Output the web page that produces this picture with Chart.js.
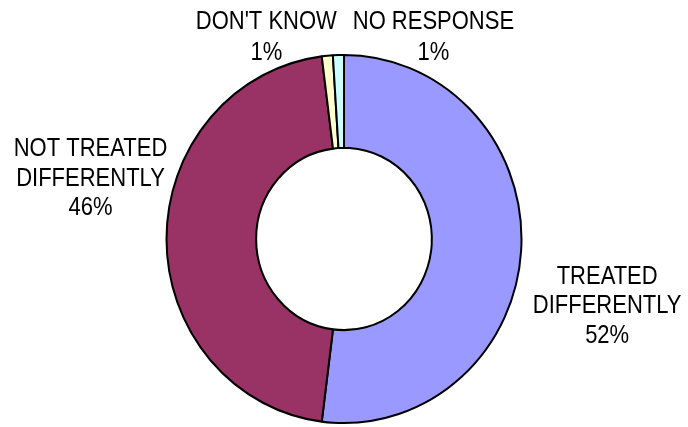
<!DOCTYPE html>
<html>
<head>
<meta charset="utf-8">
<script src="https://cdn.jsdelivr.net/npm/chart.js@4/dist/chart.umd.min.js"></script>
<style>
  body { margin: 0; background: #fff; }
  #wrap { width: 688px; height: 427px; }
</style>
</head>
<body>
<div id="wrap"><canvas id="chart" width="688" height="427"></canvas></div>
<script>
// categories and values (percent of respondents)
const labels = [["TREATED", "DIFFERENTLY"], ["NOT TREATED", "DIFFERENTLY"], ["DON'T KNOW"], ["NO RESPONSE"]];
const values = [52, 46, 1, 1];
const colors = ["#9999FF", "#993366", "#FFFFCC", "#CCFFFF"];

// where each label's first baseline sits, relative to the arc's outer edge at mid angle
const labelOffsets = [[86, 33], [-76, -83], [-61, -27], [95, -26]];
const squash = 1.037;   // the original pie is slightly taller than wide
const textStretch = 1.18; // and its text is taller than plain Arial

const ctx = document.getElementById("chart").getContext("2d");

/*
Stretch the ring vertically a little
*/
const stretchPlugin = {
  id: "stretch",
  beforeDatasetsDraw(chart) {
    const arc = chart.getDatasetMeta(0).data[0];
    const c = chart.ctx;
    c.save();
    c.translate(arc.x, arc.y);
    c.scale(1, squash);
    c.translate(-arc.x, -arc.y);
  },
  afterDatasetsDraw(chart) {
    chart.ctx.restore();
  }
};

/*
Outside labels with percentage
*/
const labelPlugin = {
  id: "outLabels",
  afterDraw(chart) {
    const c = chart.ctx;
    const total = values.reduce((a, b) => a + b, 0);
    c.save();
    c.fillStyle = "#000";
    c.font = "22px 'Liberation Sans', Arial, sans-serif";
    c.textAlign = "center";
    c.textBaseline = "alphabetic";
    chart.getDatasetMeta(0).data.forEach((arc, i) => {
      const mid = (arc.startAngle + arc.endAngle) / 2;
      const ex = arc.x + Math.cos(mid) * arc.outerRadius;
      const ey = arc.y + Math.sin(mid) * arc.outerRadius * squash;
      const x = ex + labelOffsets[i][0];
      let y = ey + labelOffsets[i][1];
      const lines = labels[i].concat([Math.round(values[i] / total * 100) + "%"]);
      const lh = lines.length > 2 ? 29.5 : 31;
      lines.forEach(t => {
        c.save();
        c.translate(x, y);
        c.scale(1, textStretch);
        c.fillText(t, 0, 0);
        c.restore();
        y += lh;
      });
    });
    c.restore();
  }
};

new Chart(ctx, {
  type: "doughnut",
  data: {
    labels: labels.map(l => l.join(" ")),
    datasets: [{
      data: values,
      backgroundColor: colors,
      borderColor: "#000",
      borderWidth: 2,
      hoverBorderWidth: 2,
      clip: false
    }]
  },
  options: {
    responsive: false,
    animation: false,
    cutout: "49.5%",
    layout: { padding: { top: 60.5, bottom: 9.5, left: 0, right: 0 } },
    plugins: {
      legend: { display: false },
      tooltip: { enabled: false }
    }
  },
  plugins: [stretchPlugin, labelPlugin]
});
</script>
</body>
</html>
